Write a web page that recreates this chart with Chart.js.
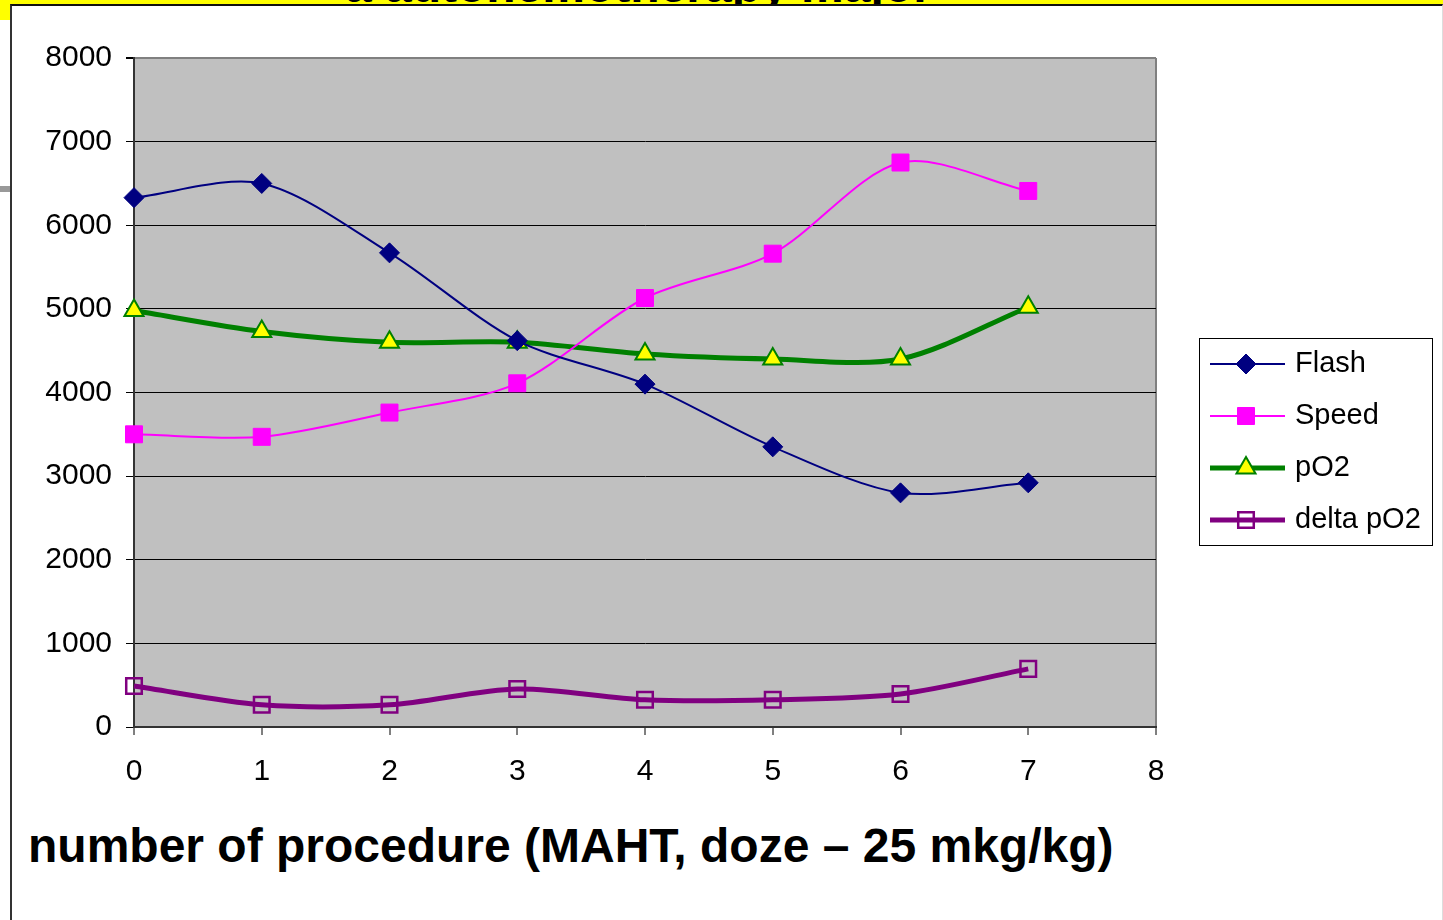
<!DOCTYPE html>
<html>
<head>
<meta charset="utf-8">
<script src="https://cdn.jsdelivr.net/npm/chart.js@4/dist/chart.umd.min.js"></script>
<style>
  html, body { margin: 0; padding: 0; background: #fff; width: 1443px; height: 920px; overflow: hidden; font-family: Arial, "Liberation Sans", sans-serif; }
  #topband { position: absolute; left: 0; top: 0; width: 1443px; height: 5px; background: #ffff00; overflow: hidden; }
  #topband span { position: absolute; left: 345px; top: -38px; font: bold 48px/48px Arial, "Liberation Sans", sans-serif; color: #000; white-space: nowrap; }
  #leftband { position: absolute; left: 0; top: 0; width: 10px; height: 20px; background: #ffff00; }
  #graymark { position: absolute; left: 0; top: 186px; width: 10px; height: 6px; background: #999; }
  #panel { position: absolute; left: 10px; top: 4px; width: 1430px; height: 920px; background: #fff; border-left: 2px solid #333; border-top: 2px solid #111; border-right: 1px solid #ddd; }
  #xtitle { position: absolute; left: 28px; top: 822px; font: bold 48px/48px Arial, "Liberation Sans", sans-serif; color: #000; white-space: nowrap; }
  #c { position: absolute; left: 0; top: 0; }
</style>
</head>
<body>
<div id="topband"><span>a autohemotherapy major</span></div>
<div id="leftband"></div>
<div id="graymark"></div>
<div id="panel"></div>
<div id="xtitle">number of procedure (MAHT, doze – 25 mkg/kg)</div>
<canvas id="c" width="1443" height="920"></canvas>
<script>
const procedures = [0, 1, 2, 3, 4, 5, 6, 7];
const flash = [6330, 6500, 5670, 4620, 4100, 3350, 2800, 2920];
const speed = [3500, 3470, 3760, 4110, 5130, 5660, 6750, 6410];
const pO2 = [4980, 4730, 4600, 4600, 4460, 4400, 4400, 5020];
const deltaPO2 = [490, 265, 265, 455, 325, 325, 395, 695];
const seriesNames = ["Flash", "Speed", "pO2", "delta pO2"];
const xTicks = [0, 1, 2, 3, 4, 5, 6, 7, 8];
const yTicks = [0, 1000, 2000, 3000, 4000, 5000, 6000, 7000, 8000];

const pts = arr => procedures.map((p, i) => ({ x: p, y: arr[i] }));
const FONT = 'Arial, "Liberation Sans", sans-serif';

const datasets = [
  { label: seriesNames[0], data: pts(flash), borderColor: '#000080', backgroundColor: '#000080', borderWidth: 2,
    pointStyle: 'rectRot', pointRadius: 10, pointBackgroundColor: '#000080', pointBorderColor: '#000080', pointBorderWidth: 1, clip: false },
  { label: seriesNames[1], data: pts(speed), borderColor: '#ff00ff', backgroundColor: '#ff00ff', borderWidth: 2,
    pointStyle: 'rect', pointRadius: 12, pointBackgroundColor: '#ff00ff', pointBorderColor: '#ff00ff', pointBorderWidth: 1, clip: false },
  { label: seriesNames[2], data: pts(pO2), borderColor: '#008000', backgroundColor: '#ffff00', borderWidth: 5,
    pointStyle: 'triangle', pointRadius: 11, pointBackgroundColor: '#ffff00', pointBorderColor: '#008000', pointBorderWidth: 2, clip: false },
  { label: seriesNames[3], data: pts(deltaPO2), borderColor: '#800080', backgroundColor: 'rgba(0,0,0,0)', borderWidth: 5,
    pointStyle: 'rect', pointRadius: 11, pointBackgroundColor: 'rgba(0,0,0,0)', pointBorderColor: '#800080', pointBorderWidth: 2.5, clip: false }
];

const plotBg = {
  id: 'plotBg',
  beforeDraw(chart) {
    const { ctx, chartArea: a } = chart;
    ctx.save();
    ctx.fillStyle = '#c0c0c0';
    ctx.fillRect(a.left, a.top, a.right - a.left, a.bottom - a.top);
    ctx.restore();
  }
};

const customLegend = {
  id: 'customLegend',
  afterDraw(chart) {
    const ctx = chart.ctx;
    ctx.save();
    ctx.fillStyle = '#fff';
    ctx.fillRect(1199, 338, 233, 207);
    ctx.strokeStyle = '#000';
    ctx.lineWidth = 1;
    ctx.strokeRect(1199.5, 338.5, 233, 207);
    chart.data.datasets.forEach((ds, i) => {
      const y = 364 + i * 52;
      ctx.strokeStyle = ds.borderColor;
      ctx.lineWidth = ds.borderWidth;
      ctx.beginPath();
      ctx.moveTo(1210, y);
      ctx.lineTo(1285, y);
      ctx.stroke();
      ctx.fillStyle = ds.pointBackgroundColor;
      ctx.strokeStyle = ds.pointBorderColor;
      ctx.lineWidth = ds.pointBorderWidth;
      Chart.helpers.drawPoint(ctx, { pointStyle: ds.pointStyle, radius: ds.pointRadius, borderWidth: ds.pointBorderWidth, rotation: 0 }, 1246, y);
      ctx.fillStyle = '#000';
      ctx.font = '29px ' + FONT;
      ctx.textBaseline = 'middle';
      ctx.textAlign = 'left';
      ctx.fillText(ds.label, 1295, y);
    });
    ctx.restore();
  }
};

new Chart(document.getElementById('c'), {
  type: 'line',
  data: { datasets },
  plugins: [plotBg, customLegend],
  options: {
    responsive: false,
    animation: false,
    layout: { padding: { left: 0, top: 58, right: 287, bottom: 0 } },
    elements: { line: { tension: 0.3, fill: false } },
    plugins: { legend: { display: false }, tooltip: { enabled: false } },
    scales: {
      x: {
        type: 'linear', min: 0, max: 8,
        afterBuildTicks: s => { s.ticks = xTicks.map(v => ({ value: v })); },
        afterFit: s => { s.height = 193; },
        ticks: { color: '#000', font: { size: 30, family: FONT }, padding: 19, maxRotation: 0, autoSkip: false, callback: v => String(v) },
        grid: { drawOnChartArea: true, color: c => (c.tick && c.tick.value === 8) ? '#808080' : 'rgba(0,0,0,0)', lineWidth: 2, tickLength: 8, tickColor: '#000', tickWidth: 1 },
        border: { display: true, color: '#333', width: 2 }
      },
      y: {
        min: 0, max: 8000,
        afterBuildTicks: s => { s.ticks = yTicks.map(v => ({ value: v })); },
        afterFit: s => { s.width = 134; },
        ticks: { color: '#000', font: { size: 30, family: FONT }, padding: 14, autoSkip: false, callback: v => String(v) },
        grid: { color: c => (c.tick && c.tick.value === 8000) ? '#808080' : '#000', lineWidth: c => (c.tick && c.tick.value === 8000) ? 2 : 1, tickLength: 8, tickColor: '#000' },
        border: { display: true, color: '#333', width: 2 }
      }
    }
  }
});
</script>
</body>
</html>
